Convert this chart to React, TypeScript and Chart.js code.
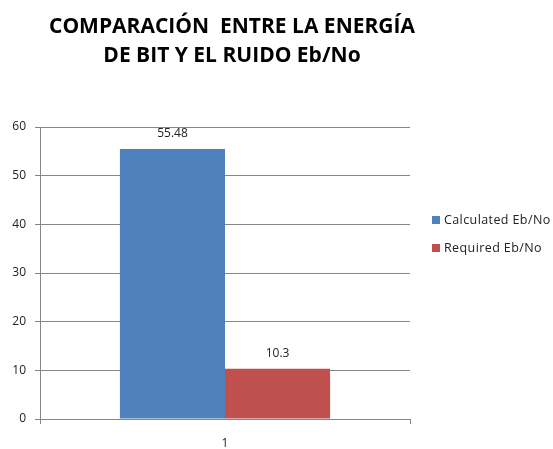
import React, { useEffect, useRef } from "react";
import { Chart, registerables } from "chart.js";

Chart.register(...registerables);

const categories = ["1"];
const seriesNames = ["Calculated Eb/No", "Required Eb/No"];
const calculated = [55.48];
const required = [10.3];
const seriesColors = ["#4F81BD", "#C0504D"];
const titleLines = ["COMPARACIÓN  ENTRE LA ENERGÍA", "DE BIT Y EL RUIDO Eb/No"];
const yMin = 0;
const yMax = 60;
const yStep = 10;

const FONT = "'Open Sans', 'Liberation Sans', sans-serif";

const titlePlugin = {
  id: "customTitle",
  afterDraw(chart: any) {
    const { ctx, chartArea } = chart;
    ctx.save();
    ctx.fillStyle = "#000";
    ctx.font = `bold 21px ${FONT}`;
    ctx.textAlign = "center";
    ctx.textBaseline = "alphabetic";
    const cx = (chartArea.left + chartArea.right) / 2 + 7;
    ctx.fillText(titleLines[0], cx, 33);
    ctx.fillText(titleLines[1], cx, 62);
    ctx.restore();
  },
};

const legendPlugin = {
  id: "customLegend",
  afterDraw(chart: any) {
    const { ctx, chartArea } = chart;
    ctx.save();
    ctx.font = `12.5px ${FONT}`;
    try {
      (ctx as any).letterSpacing = "0.4px";
    } catch (e) {}
    ctx.textBaseline = "middle";
    ctx.textAlign = "left";
    chart.data.datasets.forEach((ds: any, i: number) => {
      const y = 220 + i * 28;
      const x = chartArea.right + 22;
      ctx.fillStyle = ds.backgroundColor;
      ctx.fillRect(x, y - 4, 8, 8);
      ctx.fillStyle = "#222";
      ctx.fillText(ds.label, x + 12, y);
    });
    ctx.restore();
  },
};

const valueLabelPlugin = {
  id: "valueLabels",
  afterDatasetsDraw(chart: any) {
    const { ctx } = chart;
    ctx.save();
    ctx.font = `12px ${FONT}`;
    ctx.fillStyle = "#222";
    ctx.textAlign = "center";
    ctx.textBaseline = "bottom";
    chart.data.datasets.forEach((ds: any, di: number) => {
      const meta = chart.getDatasetMeta(di);
      meta.data.forEach((el: any, i: number) => {
        ctx.fillText(String(ds.data[i]), el.x, el.y - 9);
      });
    });
    ctx.restore();
  },
};

export default function App() {
  const ref = useRef<HTMLCanvasElement | null>(null);
  useEffect(() => {
    if (!ref.current) return;
    const chart = new Chart(ref.current, {
      type: "bar",
      data: {
        labels: categories,
        datasets: [
          { label: seriesNames[0], data: calculated, backgroundColor: seriesColors[0] },
          { label: seriesNames[1], data: required, backgroundColor: seriesColors[1] },
        ],
      },
      options: {
        animation: false,
        responsive: false,
        maintainAspectRatio: false,
        layout: { padding: { top: 127, right: 143, left: 0, bottom: 0 } },
        datasets: { bar: { barPercentage: 1, categoryPercentage: 0.568 } },
        plugins: {
          legend: { display: false },
          title: { display: false },
          tooltip: { enabled: false },
        },
        scales: {
          x: {
            grid: {
              offset: true,
              drawOnChartArea: false,
              drawTicks: true,
              tickLength: 5,
              color: "#868686",
            },
            border: { color: "#868686" },
            ticks: { font: { family: FONT, size: 12 }, color: "#222", padding: 12 },
            afterFit(s: any) {
              s.height = 30;
            },
          },
          y: {
            min: yMin,
            max: yMax,
            grid: { color: "#868686", tickLength: 5 },
            border: { color: "#868686" },
            ticks: {
              stepSize: yStep,
              font: { family: FONT, size: 12 },
              color: "#222",
              padding: 9,
            },
            afterFit(s: any) {
              s.width = 40;
            },
          },
        },
      },
      plugins: [titlePlugin, legendPlugin, valueLabelPlugin],
    });
    return () => chart.destroy();
  }, []);
  return (
    <div style={{ position: "fixed", left: 0, top: 0, width: 553, height: 449, background: "#fff" }}>
      <canvas ref={ref} width={553} height={449} />
    </div>
  );
}
